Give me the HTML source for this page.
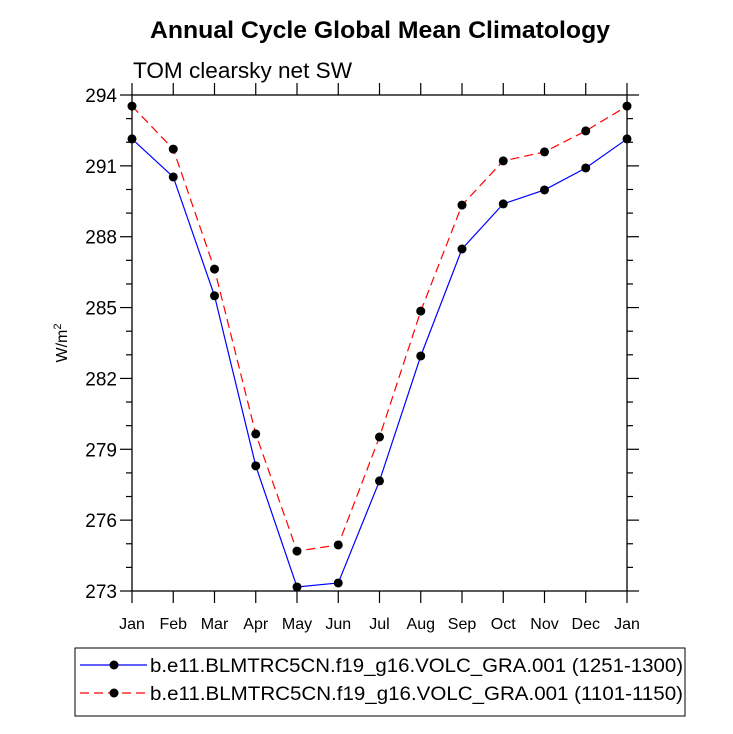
<!DOCTYPE html>
<html><head><meta charset="utf-8"><style>
html,body{margin:0;padding:0;background:#fff}
svg{display:block;font-family:"Liberation Sans",Arial,sans-serif}
</style></head><body>
<svg id="chart" width="733" height="734" viewBox="0 0 733 734" xmlns="http://www.w3.org/2000/svg">
<text x="380" y="38" text-anchor="middle" font-size="24" font-weight="bold" textLength="460" lengthAdjust="spacingAndGlyphs">Annual Cycle Global Mean Climatology</text>
<text x="133" y="78" font-size="22" textLength="219" lengthAdjust="spacingAndGlyphs">TOM clearsky net SW</text>
<text transform="translate(67,343) rotate(-90)" text-anchor="middle" font-size="16">W/m<tspan dy="-6" font-size="11">2</tspan></text>
<g id="axes"></g>
<g id="series"></g>
<g>
<rect x="75" y="648" width="610" height="68" fill="none" stroke="#000" stroke-width="1"/>
<g>
<line x1="80" y1="665" x2="147" y2="665" stroke="#0000ff" stroke-width="1.2"/>
<circle cx="114" cy="665" r="4.5" fill="#000"/>
<text x="150" y="672" font-size="19.5" textLength="533" lengthAdjust="spacingAndGlyphs">b.e11.BLMTRC5CN.f19_g16.VOLC_GRA.001 (1251-1300)</text>
</g>
<g>
<line x1="80" y1="693" x2="147" y2="693" stroke="#ff0000" stroke-width="1.2" stroke-dasharray="9,5"/>
<circle cx="114" cy="693" r="4.5" fill="#000"/>
<text x="150" y="700" font-size="19.5" textLength="533" lengthAdjust="spacingAndGlyphs">b.e11.BLMTRC5CN.f19_g16.VOLC_GRA.001 (1101-1150)</text>
</g>
</g>
</svg>
<script>
const months = ["Jan","Feb","Mar","Apr","May","Jun","Jul","Aug","Sep","Oct","Nov","Dec","Jan"];
const series1251 = [292.14,290.53,285.5,278.3,273.17,273.34,277.66,282.95,287.48,289.39,289.98,290.91,292.14];
const series1101 = [293.53,291.71,286.63,279.65,274.69,274.95,279.52,284.85,289.34,291.21,291.59,292.48,293.53];
const yTicks = [273,276,279,282,285,288,291,294];

const NS="http://www.w3.org/2000/svg";
const L=132,R=627,T=95,B=591,Y0=273,Y1=294;
const xs=i=>L+(R-L)*i/(months.length-1);
const ys=v=>B-(B-T)*(v-Y0)/(Y1-Y0);
function mk(tag,attrs,parent){const e=document.createElementNS(NS,tag);for(const k in attrs)e.setAttribute(k,attrs[k]);parent.appendChild(e);return e;}
const ax=document.getElementById('axes');
const frame=mk('rect',{x:L,y:T,width:R-L,height:B-T,fill:'none',stroke:'#000','stroke-width':1.3},ax);


for(let v=Y0;v<=Y1;v++){
  const major=yTicks.includes(v);const len=major?12:6;const y=ys(v);
  const t1=mk('line',{x1:L-len,y1:y,x2:L,y2:y,stroke:'#000','stroke-width':1.2},ax);
  
  
  const t2=mk('line',{x1:R,y1:y,x2:R+len,y2:y,stroke:'#000','stroke-width':1.2},ax);
  
  
}
yTicks.forEach(v=>{
  const t=mk('text',{x:L-15,y:ys(v)+7,'text-anchor':'end','font-size':19},ax);t.textContent=v;
  
  
});
months.forEach((m,i)=>{
  const x=xs(i);
  const a=mk('line',{x1:x,y1:B,x2:x,y2:B+12,stroke:'#000','stroke-width':1.2},ax);
  
  
  const b=mk('line',{x1:x,y1:T-12,x2:x,y2:T,stroke:'#000','stroke-width':1.2},ax);
  
  
  const t=mk('text',{x:x,y:B+38,'text-anchor':'middle','font-size':16},ax);t.textContent=m;
  
  
});
const sg=document.getElementById('series');
function draw(vals,color,dash,name){
  const g=mk('g',{},sg);
  
  
  const p=mk('polyline',{points:vals.map((v,i)=>xs(i)+','+ys(v)).join(' '),fill:'none',stroke:color,'stroke-width':1.2,'stroke-dasharray':dash},g);
  
  
  vals.forEach((v,i)=>{
    const c=mk('circle',{cx:xs(i),cy:ys(v),r:4.5,fill:'#000'},g);
    
    
  });
}
draw(series1101,'#ff0000','9,5','series-1101-1150');
draw(series1251,'#0000ff','none','series-1251-1300');
</script>
</body></html>
